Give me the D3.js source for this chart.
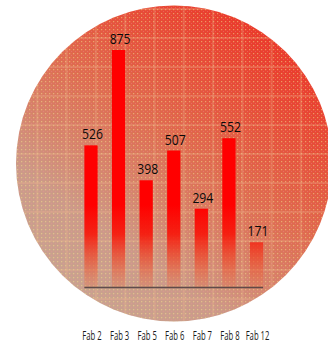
<!DOCTYPE html>
<html>
<head>
<meta charset="utf-8">
<script src="https://cdn.jsdelivr.net/npm/d3@7"></script>
<style>
  html, body { margin: 0; padding: 0; background: #fff; }
  svg { display: block; }
</style>
</head>
<body>
<div id="chart"></div>
<script>
const categories = ["Fab 2", "Fab 3", "Fab 5", "Fab 6", "Fab 7", "Fab 8", "Fab 12"];
const values = [526, 875, 398, 507, 294, 552, 171];
const valueLabels = ["526", "875", "398", "507", "294", "552", "171"];

const W = 328, H = 344;
const svg = d3.select("#chart").append("svg").attr("width", W).attr("height", H);
const defs = svg.append("defs");

// wafer background
const cx = 174, cy = 163.5, r = 158;
defs.append("clipPath").attr("id", "wafer")
  .append("circle").attr("cx", cx).attr("cy", cy).attr("r", r);

const bg = defs.append("linearGradient").attr("id", "bgGrad")
  .attr("gradientUnits", "userSpaceOnUse")
  .attr("x1", 300).attr("y1", 10).attr("x2", 90).attr("y2", 300);
[[0, "#ec2e22"], [0.3, "#e6503a"], [0.5, "#df6c50"], [0.68, "#d6846c"], [0.82, "#cc9a88"], [1, "#c9a28f"]]
  .forEach(([o, c]) => bg.append("stop").attr("offset", o).attr("stop-color", c));

const dots = defs.append("pattern").attr("id", "dots")
  .attr("patternUnits", "userSpaceOnUse").attr("width", 4).attr("height", 4);
dots.append("rect").attr("x", 1).attr("y", 1).attr("width", 1.2).attr("height", 1.2)
  .attr("fill", "#f2dc8a").attr("opacity", 0.55);
dots.append("rect").attr("x", 3).attr("y", 3).attr("width", 1).attr("height", 1)
  .attr("fill", "#f08aa0").attr("opacity", 0.35);

const barGrad = defs.append("linearGradient").attr("id", "barGrad")
  .attr("gradientUnits", "userSpaceOnUse")
  .attr("x1", 0).attr("y1", 205).attr("x2", 0).attr("y2", 288);
[[0, "#ff0000", 1], [0.35, "#f81408", 0.9], [0.7, "#ee4a2a", 0.6], [1, "#e8704a", 0.25]]
  .forEach(([o, c, op]) => barGrad.append("stop").attr("offset", o).attr("stop-color", c).attr("stop-opacity", op));

const wafer = svg.append("g").attr("clip-path", "url(#wafer)");
wafer.append("rect").attr("x", 0).attr("y", 0).attr("width", W).attr("height", H).attr("fill", "url(#bgGrad)");
wafer.append("rect").attr("x", 0).attr("y", 0).attr("width", W).attr("height", H).attr("fill", "url(#dots)");

// die grid lines
const grid = wafer.append("g").attr("stroke", "#eebb90").attr("stroke-opacity", 0.26).attr("stroke-width", 2.2);
d3.range(-1, 11).forEach(k => {
  const gx = 37.3 + 29.3 * k;
  grid.append("line").attr("x1", gx).attr("x2", gx).attr("y1", 0).attr("y2", H);
  const gy = 9 + 29 * k;
  grid.append("line").attr("y1", gy).attr("y2", gy).attr("x1", 0).attr("x2", W);
});

// scales
const x = d3.scaleBand().domain(categories).range([77.2, 270.3]).paddingInner(0.52).paddingOuter(0.26);
const y = d3.scaleLinear().domain([0, 875]).range([289, 50]);
const base = 288;

const g = svg.append("g");
g.selectAll("rect.bar").data(values).join("rect").attr("class", "bar")
  .attr("x", (d, i) => x(categories[i]))
  .attr("y", d => y(d))
  .attr("width", x.bandwidth())
  .attr("height", d => base - y(d))
  .attr("fill", "url(#barGrad)");

// baseline
g.append("line")
  .attr("x1", x(categories[0])).attr("x2", x(categories[categories.length - 1]) + x.bandwidth())
  .attr("y1", base - 0.5).attr("y2", base - 0.5)
  .attr("stroke", "#4a4040").attr("stroke-width", 1.6).attr("stroke-opacity", 0.85);

// value labels
g.selectAll("text.val").data(values).join("text").attr("class", "val")
  .attr("transform", (d, i) => `translate(${x(categories[i]) + x.bandwidth() / 2 + 1.5},${y(d) - 6}) scale(0.84,1)`)
  .attr("text-anchor", "middle")
  .attr("font-family", "'Open Sans', sans-serif")
  .attr("font-size", 14.5)
  .attr("fill", "#0a0a0a")
  .text((d, i) => valueLabels[i]);

// category axis labels
const xAxis = d3.axisBottom(x).tickSize(0).tickPadding(0);
const ax = svg.append("g").attr("transform", `translate(0,${base})`).call(xAxis);
ax.select(".domain").remove();
ax.selectAll(".tick text")
  .attr("y", 0).attr("dy", null)
  .attr("transform", "translate(1,51.5) scale(0.63,1)")
  .attr("text-anchor", "middle")
  .attr("font-family", "'Open Sans', sans-serif")
  .attr("font-size", 12.2)
  .attr("fill", "#1a1a1a");
</script>
</body>
</html>
